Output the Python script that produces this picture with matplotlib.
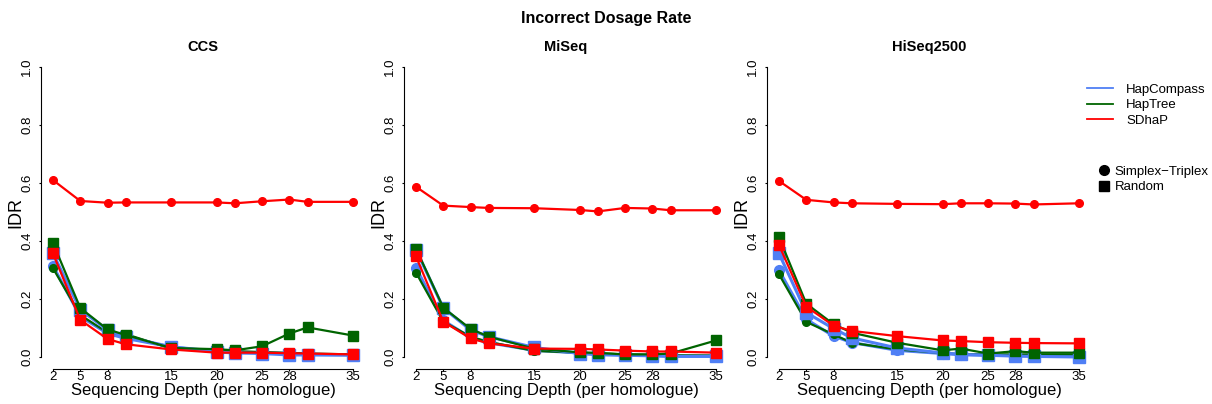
import matplotlib
matplotlib.use('Agg')
import matplotlib.pyplot as plt
from matplotlib.lines import Line2D

plt.rcParams['font.family'] = ['Liberation Sans', 'DejaVu Sans']

depth = [2, 5, 8, 10, 15, 20, 22, 25, 28, 30, 35]
xticks = [2, 5, 8, 15, 20, 25, 28, 35]
panels = ['CCS', 'MiSeq', 'HiSeq2500']
methods = ['HapCompass', 'HapTree', 'SDhaP']
colors = {'HapCompass': '#4f7ff5', 'HapTree': '#006400', 'SDhaP': '#ff0000'}

# IDR values, simplex-triplex (circle) and random (square)
ccs_circle = {
    'HapCompass': [0.314, 0.140, 0.081, 0.064, 0.035, 0.020, 0.017, 0.015, 0.012, 0.009, 0.008],
    'HapTree':    [0.306, 0.145, 0.084, 0.079, 0.029, 0.023, 0.020, 0.017, 0.014, 0.012, 0.009],
    'SDhaP':      [0.610, 0.538, 0.532, 0.533, 0.533, 0.533, 0.530, 0.537, 0.543, 0.535, 0.535],
}
ccs_square = {
    'HapCompass': [0.357, 0.163, 0.093, 0.070, 0.035, 0.017, 0.014, 0.012, 0.007, 0.007, 0.006],
    'HapTree':    [0.393, 0.169, 0.095, 0.076, 0.031, 0.027, 0.023, 0.037, 0.081, 0.102, 0.074],
    'SDhaP':      [0.357, 0.128, 0.062, 0.044, 0.026, 0.015, 0.015, 0.015, 0.013, 0.012, 0.009],
}
miseq_circle = {
    'HapCompass': [0.308, 0.126, 0.067, 0.049, 0.023, 0.014, 0.009, 0.007, 0.005, 0.003, 0.003],
    'HapTree':    [0.291, 0.122, 0.070, 0.052, 0.021, 0.015, 0.013, 0.009, 0.007, 0.006, 0.005],
    'SDhaP':      [0.587, 0.522, 0.517, 0.514, 0.513, 0.507, 0.502, 0.514, 0.512, 0.506, 0.506],
}
miseq_square = {
    'HapCompass': [0.370, 0.169, 0.093, 0.070, 0.033, 0.012, 0.008, 0.006, 0.004, 0.002, 0.002],
    'HapTree':    [0.374, 0.170, 0.097, 0.070, 0.029, 0.016, 0.014, 0.009, 0.009, 0.012, 0.057],
    'SDhaP':      [0.347, 0.122, 0.064, 0.047, 0.029, 0.028, 0.026, 0.022, 0.019, 0.019, 0.015],
}
hiseq_circle = {
    'HapCompass': [0.299, 0.130, 0.072, 0.050, 0.023, 0.012, 0.008, 0.006, 0.005, 0.004, 0.002],
    'HapTree':    [0.285, 0.121, 0.078, 0.049, 0.026, 0.014, 0.009, 0.009, 0.009, 0.009, 0.009],
    'SDhaP':      [0.607, 0.542, 0.533, 0.530, 0.528, 0.527, 0.530, 0.530, 0.529, 0.526, 0.530],
}
hiseq_square = {
    'HapCompass': [0.357, 0.153, 0.098, 0.066, 0.031, 0.014, 0.009, 0.006, 0.003, 0.002, 0.000],
    'HapTree':    [0.413, 0.184, 0.113, 0.084, 0.049, 0.023, 0.029, 0.012, 0.020, 0.015, 0.015],
    'SDhaP':      [0.386, 0.174, 0.108, 0.090, 0.072, 0.057, 0.055, 0.051, 0.049, 0.048, 0.047],
}
circles = [ccs_circle, miseq_circle, hiseq_circle]
squares = [ccs_square, miseq_square, hiseq_square]

W, H = 1212, 404
fig = plt.figure(figsize=(W / 100, H / 100), dpi=100)

lefts = [41, 404, 767]
for i, name in enumerate(panels):
    ax = fig.add_axes([lefts[i] / W, (H - 368.6) / H, 324 / W, 313.2 / H])
    for m in methods:
        big = m == 'HapCompass'
        ax.plot(depth, circles[i][m], color=colors[m], lw=2.2 if big else 1.6,
                marker='o', ms=7 if big else 5.5, zorder=2)
        ax.plot(depth, squares[i][m], color=colors[m], lw=2.2 if big else 1.6,
                marker='s', ms=8 if big else 6.5, zorder=3)
    ax.set_xlim(0.68, 36.32)
    ax.set_ylim(-0.04, 1.04)
    for s in ['top', 'right']:
        ax.spines[s].set_visible(False)
    ax.spines['left'].set_bounds(0, 1)
    ax.spines['bottom'].set_bounds(2, 35)
    ax.set_xticks(xticks)
    ax.set_yticks([0, 0.2, 0.4, 0.6, 0.8, 1.0])
    ax.set_yticklabels(['0.0', '0.2', '0.4', '0.6', '0.8', '1.0'], rotation=90, va='center')
    ax.tick_params(axis='x', labelsize=9.5, length=1.5, width=0.8, pad=0.5)
    ax.tick_params(axis='y', labelsize=9.5, length=1.5, width=0.8, pad=4)
    ax.set_xlabel('Sequencing Depth (per homologue)', fontsize=12, labelpad=0)
    ax.set_ylabel('IDR', fontsize=13, labelpad=-2)
    ax.set_title(name, fontsize=10.5, fontweight='bold', pad=3)

fig.text(0.5, 1 - 18 / H, 'Incorrect Dosage Rate', ha='center', va='center',
         fontsize=11.5, fontweight='bold')

line_handles = [Line2D([], [], color=colors[m], lw=1.3) for m in methods]
fig.legend(line_handles, methods, loc='upper left', bbox_to_anchor=(1080 / W, 1 - 77 / H),
           frameon=False, fontsize=9.5, handlelength=2.0, labelspacing=0.25,
           borderpad=0, handletextpad=1.0)
shape_handles = [Line2D([], [], color='black', lw=0, marker='o', ms=7),
                 Line2D([], [], color='black', lw=0, marker='s', ms=7)]
fig.legend(shape_handles, ['Simplex\u2212Triplex', 'Random'], loc='upper left',
           bbox_to_anchor=(1092 / W, 1 - 159 / H), frameon=False, fontsize=9.5,
           handlelength=0.8, labelspacing=0.25, borderpad=0, handletextpad=0.4)

fig.savefig('out.png', dpi=100)
